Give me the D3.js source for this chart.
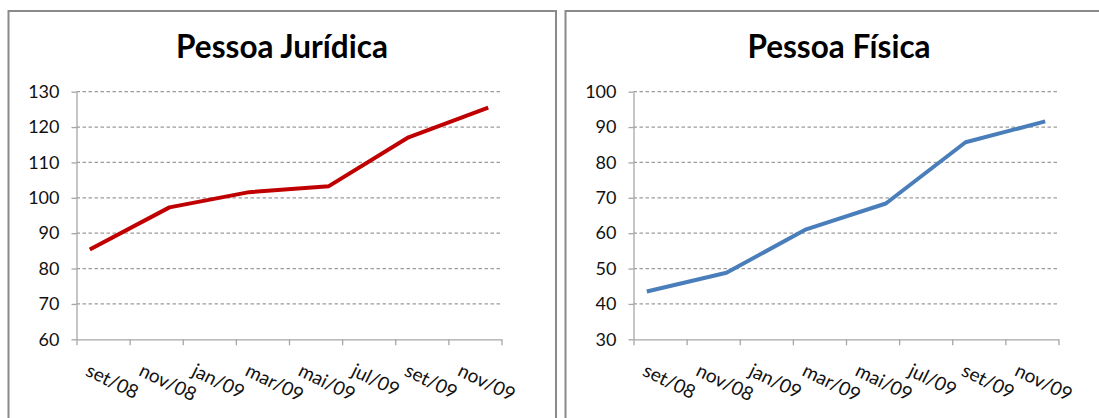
<!DOCTYPE html>
<html lang="pt-BR">

<head>
  <meta charset="UTF-8">
  <title>Pessoa Jurídica / Pessoa Física</title>
  <style>
    body { margin: 0; background: #fff; }
  </style>
</head>

<body>
  <svg id="svg" width="1099" height="418"></svg>

  <script src="https://d3js.org/d3.v7.min.js"></script>
  <script>
    // um mês por posição no eixo, de set/08 a dez/09
    const meses = ["set/08", "out/08", "nov/08", "dez/08", "jan/09", "fev/09", "mar/09", "abr/09",
      "mai/09", "jun/09", "jul/09", "ago/09", "set/09", "out/09", "nov/09", "dez/09"]
    const rotulosX = ["set/08", "nov/08", "jan/09", "mar/09", "mai/09", "jul/09", "set/09", "nov/09"]

    // meses com valor (trimestral)
    const pontos = ["set/08", "dez/08", "mar/09", "jun/09", "set/09", "dez/09"]
    const juridica = [85.4, 97.3, 101.6, 103.3, 117.1, 125.5]
    const fisica = [43.5, 48.8, 61.1, 68.4, 85.7, 91.6]

    const ticksJuridica = [60, 70, 80, 90, 100, 110, 120, 130]
    const ticksFisica = [30, 40, 50, 60, 70, 80, 90, 100]

    const font = "Lato, 'Open Sans', sans-serif"
    const svg = d3.select("#svg")

    function grafico(boxX, titulo, valores, ticks, cor) {
      const w = 425, h = 247.6, left = boxX + 68.5, top = 91.7

      // moldura
      svg.append("rect")
        .attr("x", boxX + 0.5).attr("y", 11)
        .attr("width", 547.5).attr("height", 440)
        .attr("fill", "#fff")
        .attr("stroke", "#8a8a8a")
        .attr("stroke-width", 2)

      svg.append("text")
        .attr("x", boxX + 274).attr("y", 58.3)
        .attr("text-anchor", "middle")
        .style("font-family", font)
        .style("font-weight", "bold")
        .style("font-size", "31.5px")
        .attr("fill", "#000")
        .text(titulo)

      const g = svg.append("g").attr("transform", `translate(${left},${top})`)

      const x = d3.scaleLinear().domain([0, meses.length]).range([0, w])
      const y = d3.scaleLinear().domain(d3.extent(ticks)).range([h, 0])

      // linhas de grade
      g.selectAll(".grade")
        .data(ticks.slice(1))
        .enter()
        .append("line")
        .attr("x1", 0).attr("x2", w)
        .attr("y1", d => y(d)).attr("y2", d => y(d))
        .attr("stroke", "#9c9c9c")
        .attr("stroke-width", 1.3)
        .attr("stroke-dasharray", "3.5,2.5")

      const eixoY = g.append("g")
        .call(d3.axisLeft(y).tickValues(ticks).tickSize(5).tickSizeOuter(0).tickPadding(12).tickFormat(d3.format("d")))
      eixoY.selectAll("path, line").attr("stroke", "#a6a6a6").attr("stroke-width", 1.3)
      eixoY.selectAll("text")
        .style("font-family", font)
        .style("font-size", "18px")
        .attr("fill", "#111")

      const eixoX = g.append("g")
        .attr("transform", `translate(0,${h})`)
        .call(d3.axisBottom(x)
          .tickValues(d3.range(0, meses.length + 1, 2))
          .tickSize(6).tickSizeOuter(0)
          .tickFormat(i => rotulosX[i / 2] || ""))
      eixoX.selectAll("path, line").attr("stroke", "#a6a6a6").attr("stroke-width", 1.3)
      eixoX.selectAll("text")
        .attr("x", null).attr("y", null).attr("dy", null)
        .attr("text-anchor", "start")
        .attr("transform", "translate(7.5,35.6) rotate(26)")
        .style("font-family", font)
        .style("font-size", "19px")
        .attr("fill", "#111")

      const linha = d3.line()
        .x((d, i) => x(meses.indexOf(pontos[i]) + 0.5))
        .y(d => y(d))

      g.append("path")
        .datum(valores)
        .attr("d", linha)
        .attr("fill", "none")
        .attr("stroke", cor)
        .attr("stroke-width", 4)
        .attr("stroke-linejoin", "round")
    }

    grafico(8, "Pessoa Jurídica", juridica, ticksJuridica, "#c00000")
    grafico(565, "Pessoa Física", fisica, ticksFisica, "#4a7ebb")
  </script>
</body>

</html>
